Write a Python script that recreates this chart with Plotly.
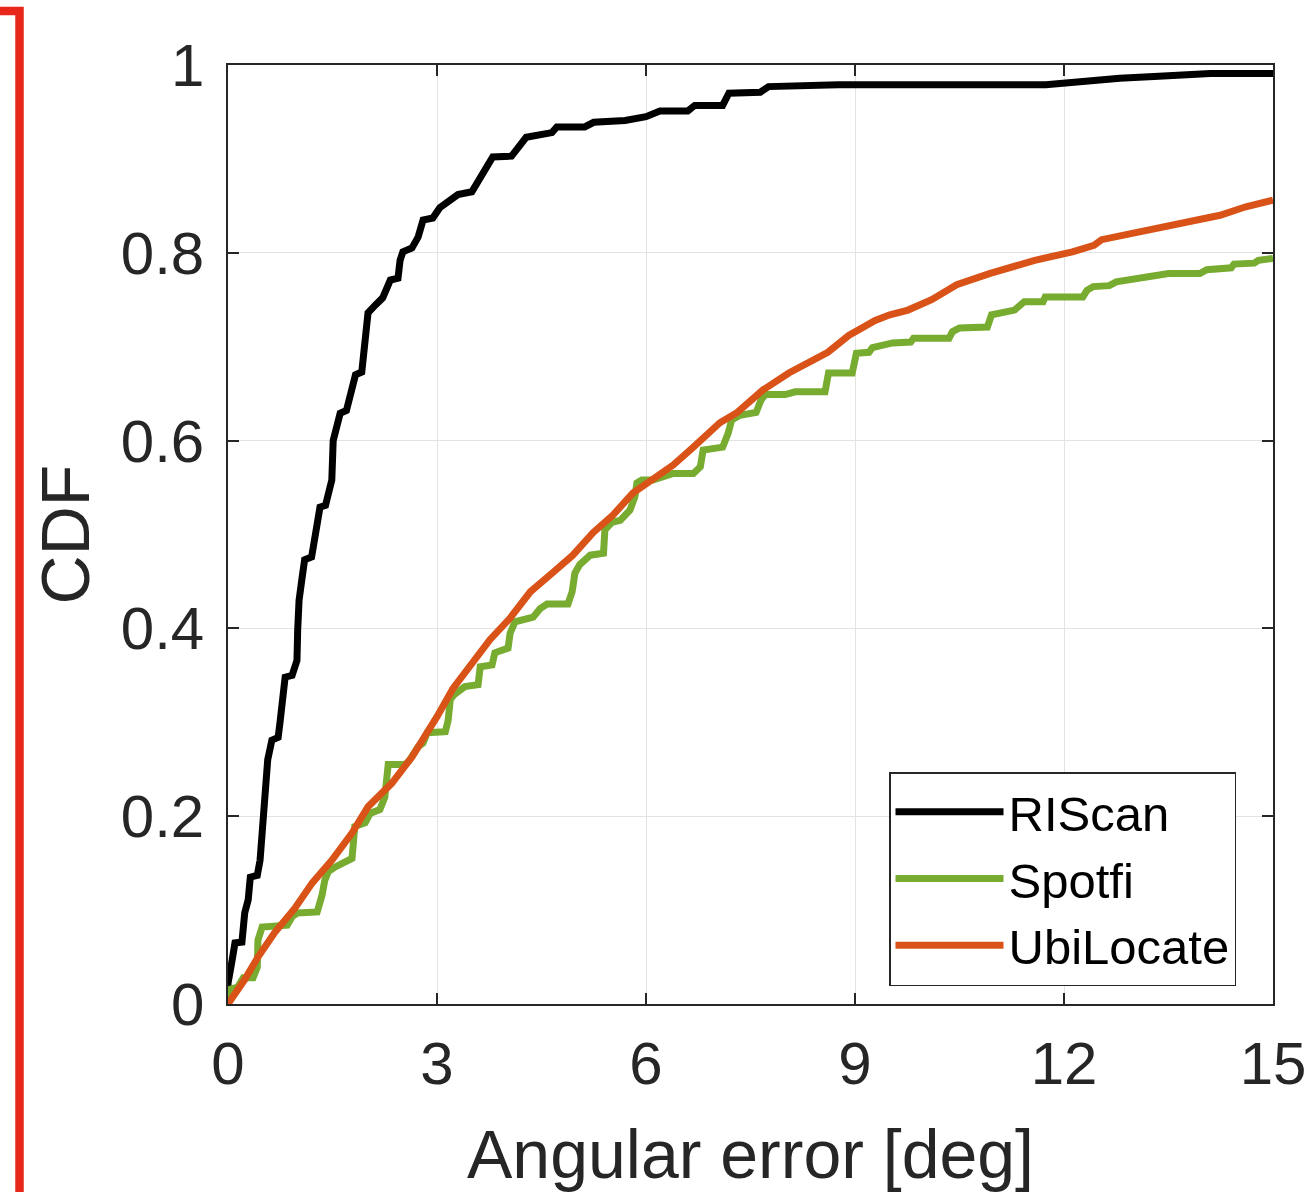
import plotly.graph_objects as go

# ---------------- data ----------------
riscan_x = [0, 0.0, 0.06, 0.1, 0.2, 0.24, 0.29, 0.32, 0.42, 0.46, 0.49, 0.51, 0.53, 0.57, 0.63,
            0.72, 0.75, 0.79, 0.82, 0.92, 0.99, 1.0, 1.02, 1.06, 1.1, 1.2, 1.25, 1.32, 1.4, 1.49,
            1.51, 1.57, 1.61, 1.7, 1.78, 1.83, 1.92, 1.97, 2.01, 2.11, 2.22, 2.33, 2.44, 2.47,
            2.51, 2.64, 2.73, 2.8, 2.94, 3.04, 3.3, 3.5, 3.6, 3.8, 4.07, 4.28, 4.65, 4.72, 5.12,
            5.25, 5.7, 6.0, 6.2, 6.6, 6.7, 7.1, 7.19, 7.64, 7.76, 8.76, 11.74, 12.3, 12.8, 13.36,
            14.1, 15]
riscan_y = [0, 0.022, 0.047, 0.065, 0.066, 0.097, 0.111, 0.135, 0.137, 0.153, 0.182, 0.21, 0.239,
            0.26, 0.281, 0.284, 0.302, 0.334, 0.348, 0.35, 0.366, 0.398, 0.43, 0.452, 0.473,
            0.476, 0.5, 0.529, 0.531, 0.558, 0.6, 0.614, 0.629, 0.632, 0.657, 0.67, 0.673, 0.707,
            0.736, 0.744, 0.752, 0.771, 0.773, 0.792, 0.801, 0.805, 0.817, 0.835, 0.837, 0.848,
            0.862, 0.865, 0.877, 0.902, 0.903, 0.923, 0.928, 0.934, 0.934, 0.939, 0.941, 0.945,
            0.951, 0.951, 0.957, 0.957, 0.970, 0.971, 0.977, 0.979, 0.979, 0.983, 0.986, 0.988,
            0.991, 0.991]

spotfi_x = [0, 0.0, 0.14, 0.22, 0.36, 0.42, 0.43, 0.49, 0.85, 0.92, 1.0, 1.28, 1.35, 1.39, 1.44,
            1.54, 1.78, 1.8, 1.82, 1.97, 2.04, 2.18, 2.25, 2.3, 2.54, 2.6, 2.73, 2.8, 2.86, 3.12,
            3.16, 3.19, 3.24, 3.4, 3.59, 3.62, 3.79, 3.83, 4.02, 4.05, 4.12, 4.38, 4.48, 4.58,
            4.88, 4.94, 4.98, 5.05, 5.2, 5.39, 5.41, 5.51, 5.63, 5.77, 5.84, 5.87, 5.94, 6.1,
            6.39, 6.68, 6.78, 6.82, 7.1, 7.18, 7.23, 7.35, 7.58, 7.65, 7.71, 8.0, 8.14, 8.57,
            8.62, 8.96, 9.02, 9.2, 9.25, 9.54, 9.8, 9.84, 10.35, 10.4, 10.5, 10.9, 10.96, 11.29,
            11.43, 11.7, 11.73, 12.27, 12.33, 12.42, 12.65, 12.75, 13.15, 13.24, 13.5, 13.95,
            14.05, 14.4, 14.44, 14.73, 14.79, 15]
spotfi_y = [0, 0.015, 0.018, 0.028, 0.028, 0.039, 0.068, 0.082, 0.084, 0.093, 0.097, 0.098,
            0.116, 0.132, 0.141, 0.146, 0.155, 0.171, 0.189, 0.193, 0.203, 0.207, 0.22, 0.255,
            0.255, 0.259, 0.274, 0.278, 0.289, 0.29, 0.302, 0.324, 0.329, 0.338, 0.34, 0.359,
            0.361, 0.374, 0.379, 0.395, 0.407, 0.412, 0.421, 0.426, 0.426, 0.439, 0.459, 0.468,
            0.478, 0.48, 0.505, 0.513, 0.515, 0.526, 0.54, 0.555, 0.558, 0.558, 0.565, 0.565,
            0.572, 0.59, 0.593, 0.608, 0.622, 0.627, 0.63, 0.643, 0.649, 0.649, 0.652, 0.652,
            0.672, 0.672, 0.693, 0.694, 0.699, 0.704, 0.705, 0.709, 0.709, 0.716, 0.72, 0.721,
            0.734, 0.739, 0.748, 0.748, 0.753, 0.753, 0.76, 0.764, 0.765, 0.769, 0.773, 0.775,
            0.778, 0.778, 0.782, 0.784, 0.788, 0.789, 0.792, 0.794]

ubilocate_x = [0, 0.24, 0.43, 0.67, 0.96, 1.21, 1.49, 1.78, 2.01, 2.35, 2.64, 2.83, 3.0, 3.23,
               3.52, 3.76, 4.05, 4.34, 4.67, 4.95, 5.24, 5.53, 5.81, 6.1, 6.39, 6.68, 7.06, 7.31,
               7.68, 8.05, 8.38, 8.61, 8.91, 9.29, 9.5, 9.76, 10.1, 10.46, 10.94, 11.58, 12.12,
               12.43, 12.54, 13.07, 13.61, 14.24, 14.61, 15]
ubilocate_y = [0, 0.026, 0.05, 0.076, 0.102, 0.129, 0.153, 0.182, 0.21, 0.235, 0.263, 0.285,
               0.306, 0.336, 0.364, 0.388, 0.411, 0.439, 0.46, 0.478, 0.502, 0.521, 0.544, 0.56,
               0.574, 0.593, 0.619, 0.63, 0.654, 0.672, 0.684, 0.694, 0.712, 0.728, 0.734, 0.739,
               0.75, 0.766, 0.778, 0.792, 0.801, 0.808, 0.814, 0.822, 0.83, 0.84, 0.849, 0.856]

x_ticks = [0, 3, 6, 9, 12, 15]
y_ticks = [0, 0.2, 0.4, 0.6, 0.8, 1]
y_tick_labels = ["0", "0.2", "0.4", "0.6", "0.8", "1"]

assert len(riscan_x) == len(riscan_y)
assert len(spotfi_x) == len(spotfi_y)
assert len(ubilocate_x) == len(ubilocate_y)

# ---------------- figure ----------------
W, H = 1308, 1192
L, R, T, B = 228, 35, 65, 188
PW, PH = W - L - R, H - T - B

def px(xp):
    return (xp - L) / PW

def py(yp):
    return (H - B - yp) / PH

FONT = "Liberation Sans, Arial, Helvetica, sans-serif"
TXT = "#262626"

fig = go.Figure()
fig.add_trace(go.Scatter(x=riscan_x, y=riscan_y, mode="lines", name="RIScan",
                         line=dict(color="#000000", width=7)))
fig.add_trace(go.Scatter(x=spotfi_x, y=spotfi_y, mode="lines", name="Spotfi",
                         line=dict(color="#77AC30", width=7)))
fig.add_trace(go.Scatter(x=ubilocate_x, y=ubilocate_y, mode="lines", name="UbiLocate",
                         line=dict(color="#D95319", width=7)))

axis_common = dict(
    showline=True, linecolor=TXT, linewidth=1.5, mirror="allticks",
    ticks="inside", ticklen=11, tickwidth=1.5, tickcolor=TXT,
    showgrid=True, gridcolor="#e3e3e3", gridwidth=1.2,
    zeroline=False, automargin=False,
    tickfont=dict(family=FONT, size=60, color=TXT),
)

fig.update_xaxes(range=[0, 15], tickvals=x_ticks, ticktext=[str(v) for v in x_ticks],
                 title=dict(text="Angular error [deg]", font=dict(family=FONT, size=68, color=TXT),
                            standoff=36),
                 ticklabelstandoff=6, **axis_common)
fig.update_yaxes(range=[0, 1], tickvals=y_ticks, ticktext=y_tick_labels,
                 title=dict(text="CDF", font=dict(family=FONT, size=68, color=TXT), standoff=9),
                 ticklabelstandoff=10, **axis_common)

# red frame fragment at the left edge (paper coordinates)
red_path = "M {x0},{y0} L {x1},{y0} L {x1},{y2}".format(
    x0=px(-5), y0=py(11), x1=px(19.5), y2=py(H + 5))
fig.add_shape(type="path", path=red_path, xref="paper", yref="paper",
              line=dict(color="#E8271A", width=8.5), layer="above")

fig.update_layout(
    width=W, height=H,
    margin=dict(l=L, r=R, t=T, b=B, pad=0, autoexpand=False),
    paper_bgcolor="white", plot_bgcolor="white",
    font=dict(family=FONT, color=TXT),
    showlegend=True,
    legend=dict(
        x=px(889), y=py(772), xanchor="left", yanchor="top",
        bgcolor="white", bordercolor=TXT, borderwidth=1.5,
        font=dict(family=FONT, size=49, color="#000000"),
        itemwidth=108, tracegroupgap=0,
    ),
)

fig.write_html("out.html")
